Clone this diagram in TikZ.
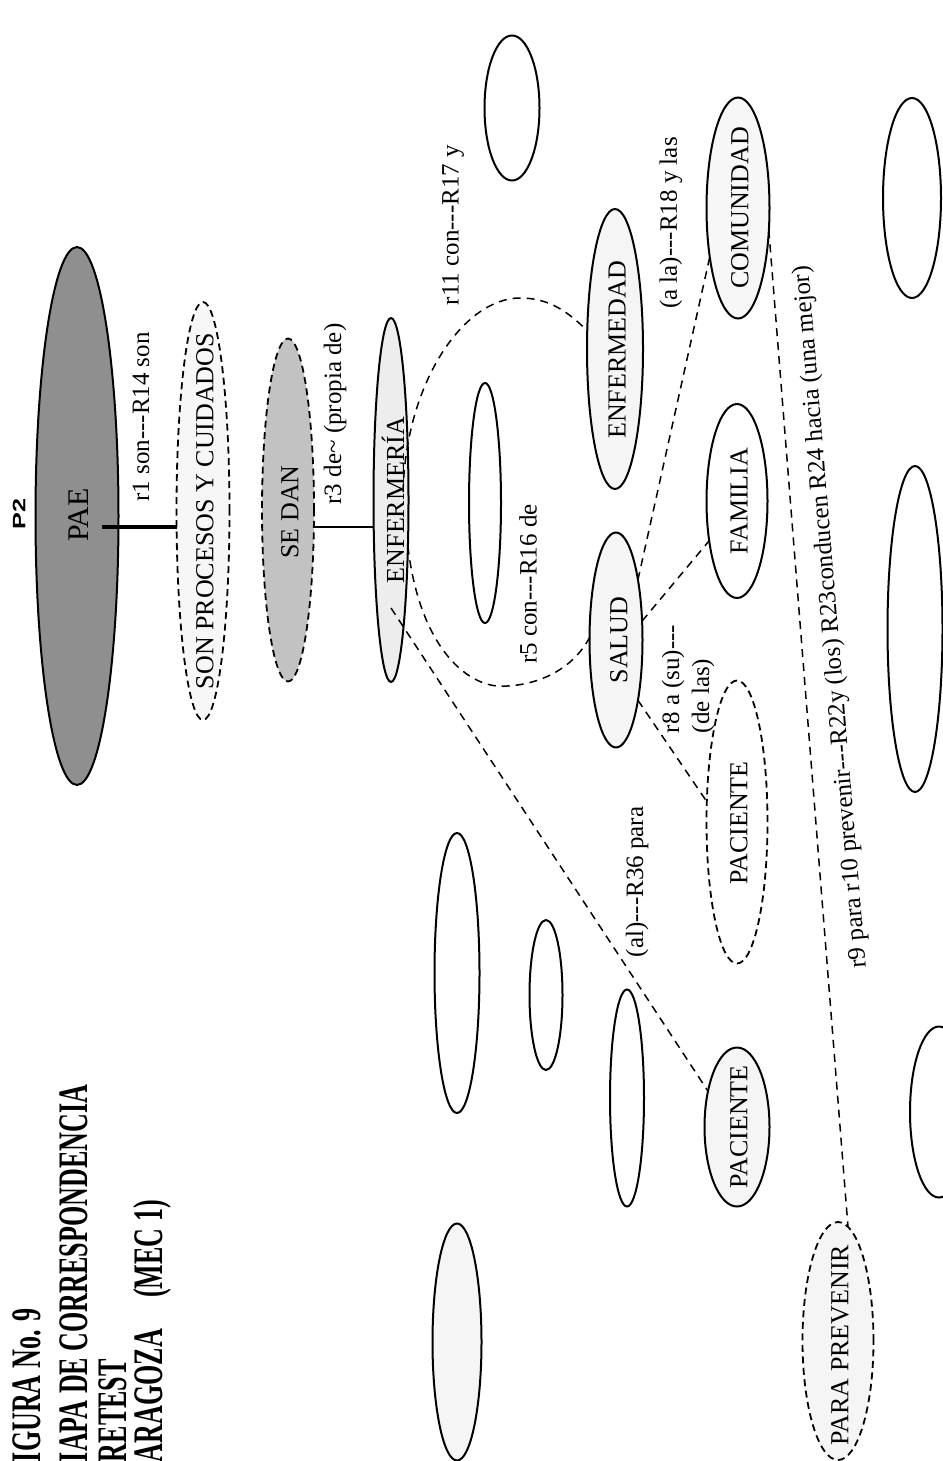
\documentclass[tikz,border=0pt]{standalone}
\usepackage{fontspec}
\usepackage{graphicx}
\setmainfont{Liberation Serif}
\newfontfamily\headsans{Liberation Sans}
\usetikzlibrary{shapes.geometric,calc}

\begin{document}
\begin{tikzpicture}[x=1pt,y=-1pt,
  every node/.style={inner sep=0pt, outer sep=0pt},
  ell/.style={ellipse, draw=black, line width=2pt},
  dell/.style={ellipse, draw=black, line width=1.8pt, dash pattern=on 7pt off 4.5pt},
  conn/.style={line width=1.5pt, dash pattern=on 8pt off 6pt},
  word/.style={rotate=90, font=\fontsize{26}{30}\selectfont},
  lbl/.style={rotate=90, font=\fontsize{25}{29}\selectfont},
  head/.style={rotate=90, anchor=base west, font=\bfseries\fontsize{42}{44}\selectfont},
]
\fill[white] (0,0) rectangle (942,1461);
\useasboundingbox (0,0) rectangle (942,1461);

% title block, printed along the left edge
\node[head] (h1) at (40,1462) {\scalebox{0.62}[1]{IGURA No. 9}};
\node[head] (h2) at (87,1462) {\scalebox{0.62}[1]{IAPA DE CORRESPONDENCIA}};
\node[head] (h3) at (126,1462) {\scalebox{0.62}[1]{RETEST}};
\node[head] (h4) at (162,1462) {\scalebox{0.62}[1]{ARAGOZA\hspace{1.2em}(MEC 1)}};

\node[rotate=90, font=\headsans\bfseries\fontsize{18}{20}\selectfont] (p2) at (19,514) {\scalebox{1.4}[1]{P2}};

% main chain
\node[ell, fill=black!44, minimum width=83, minimum height=538] (pae) at (77,516) {};
\node[word, font=\fontsize{30}{34}\selectfont] (pae-t) at (79,515) {PAE};

\node[dell, fill=black!3, minimum width=53, minimum height=418] (son) at (203,511) {};
\node[word] (son-t) at (205,511) {SON PROCESOS Y CUIDADOS};

\node[dell, fill=black!24, minimum width=52, minimum height=343] (sedan) at (288,510) {};
\node[word] (sedan-t) at (290,512) {SE DAN};

\node[ell, fill=black!7, minimum width=35, minimum height=364] (enf) at (391,500) {};
\node[word] (enf-t) at (393,500) {ENFERMERÍA};

% concepts
\node[ell, fill=black!4, minimum width=56, minimum height=280] (enfd) at (615,349) {};
\node[word] (enfd-t) at (617,350) {ENFERMEDAD};

\node[ell, fill=black!4, minimum width=53, minimum height=215] (salud) at (616,640) {};
\node[word] (salud-t) at (619,640) {SALUD};

\node[ell, fill=black!3, minimum width=63, minimum height=221] (comu) at (738,208) {};
\node[word] (comu-t) at (740,208) {COMUNIDAD};

\node[ell, minimum width=61, minimum height=194] (fam) at (737,501) {};
\node[word] (fam-t) at (739,501) {FAMILIA};

\node[dell, minimum width=61, minimum height=283] (pacd) at (737,822) {};
\node[word] (pacd-t) at (739,823) {PACIENTE};

\node[ell, fill=black!4, minimum width=65, minimum height=159] (pacs) at (737,1127) {};
\node[word] (pacs-t) at (739,1127) {PACIENTE};

\node[dell, fill=black!4, minimum width=71, minimum height=238] (para) at (838,1341) {};
\node[word] (para-t) at (840,1345) {PARA PREVENIR};

% empty ellipses
\node[ell, minimum width=55, minimum height=145] (e0) at (512,108) {};
\node[ell, minimum width=32, minimum height=240] (e1) at (485,503) {};
\node[ell, minimum width=45, minimum height=280] (e2) at (457,973) {};
\node[ell, minimum width=33, minimum height=150] (e3) at (546,995) {};
\node[ell, minimum width=34, minimum height=217] (e4) at (627,1098) {};
\node[ell, fill=black!4, minimum width=49, minimum height=237] (e5) at (457,1342) {};
\node[ell, minimum width=58, minimum height=200] (e6) at (912,198) {};
\node[ell, minimum width=55, minimum height=326] (e7) at (915,629) {};
\node[ell, minimum width=58, minimum height=171] (e8) at (939,1112) {};

% solid links
\coordinate (j1) at (102,527);
\draw[line width=4.5pt] (j1) -- (j1 -| son.west);
\draw[line width=1.5pt] (sedan.east |- j1) -- (enf.west |- j1);

% dashed links
\draw[conn] ([xshift=12pt,yshift=8pt]enf.center) .. controls (406,380) and (465,298) .. (520,298)
  .. controls (545,298) and (565,308) .. (enfd.147);
\draw[conn] (enf.-70) .. controls (420,650) and (470,690) .. (507,686)
  .. controls (545,684) and (575,665) .. (salud.175);
\draw[conn] ([yshift=-108pt]enf.center) -- (pacs.129);
\draw[conn] (salud.70) -- (comu.240);
\draw[conn] (salud.36) -- (fam.235);
\draw[conn] (salud.-70) -- (pacd.146);
\draw[conn] (comu.-36) -- (para.85);

% link labels
\node[lbl] (l1) at (141,417) {r1 son-{}-{}-R14 son};
\node[lbl] (l3) at (335,414) {r3 de\textasciitilde{} (propia de)};
\node[lbl] (l11) at (453,225) {r11 con-{}-{}-R17 y};
\node[lbl] (l5) at (528,584) {r5 con-{}-{}-R16 de};
\node[lbl] (l18) at (671,223) {(a la)-{}-{}-R18 y las};
\node[lbl, anchor=west] (l8a) at (673,733) {r8 a (su)-{}-{}-};
\node[lbl, anchor=west] (l8b) at (703,733) {(de las)};
\node[lbl] (l36) at (637,882) {(al)-{}-{}-R36 para};
\node[lbl, rotate=4.7] (l9) at (831,617) {r9 para r10 prevenir-{}-{}-R22y (los) R23conducen R24 hacia (una mejor)};
\end{tikzpicture}
\end{document}
